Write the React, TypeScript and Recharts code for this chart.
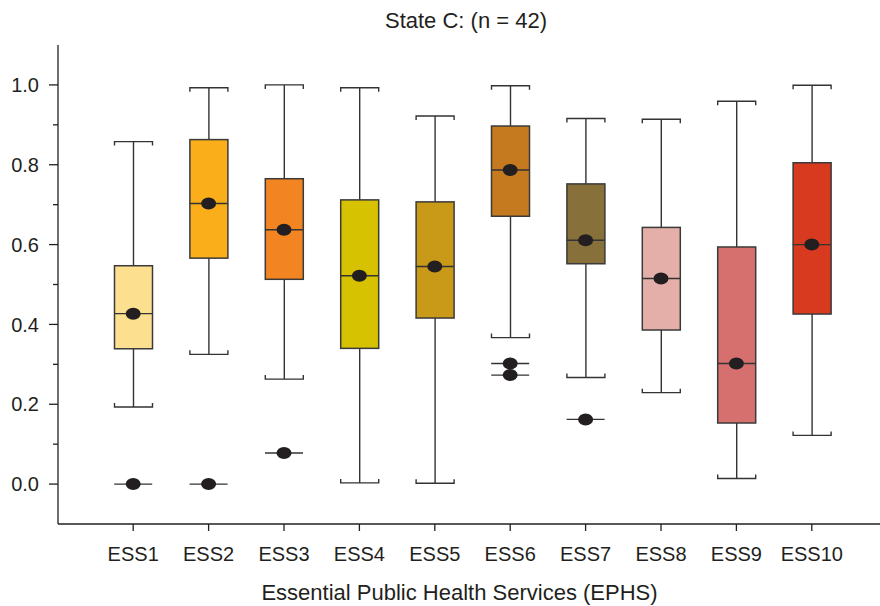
import React from "react"
import { ComposedChart, Bar, Scatter, XAxis, YAxis, Cell, Label } from "recharts"

const categories = ["ESS1", "ESS2", "ESS3", "ESS4", "ESS5", "ESS6", "ESS7", "ESS8", "ESS9", "ESS10"]
const whiskerLow = [0.193, 0.325, 0.263, 0.003, 0.002, 0.367, 0.267, 0.229, 0.014, 0.122]
const quartile1 = [0.339, 0.566, 0.513, 0.34, 0.416, 0.671, 0.552, 0.386, 0.153, 0.426]
const medians = [0.427, 0.703, 0.637, 0.522, 0.545, 0.787, 0.611, 0.515, 0.302, 0.6]
const quartile3 = [0.547, 0.863, 0.765, 0.712, 0.707, 0.897, 0.752, 0.643, 0.594, 0.805]
const whiskerHigh = [0.858, 0.993, 1.0, 0.993, 0.922, 0.998, 0.916, 0.914, 0.959, 0.999]
const outlierA = [0, 0, 0.078, null, null, 0.302, 0.162, null, null, null]
const outlierB = [null, null, null, null, null, 0.273, null, null, null, null]
const yTicks = [0, 0.1, 0.2, 0.3, 0.4, 0.5, 0.6, 0.7, 0.8, 0.9, 1.0]

const BOX_COLORS = [
  "#fde08f", "#f9ae1a", "#f38422", "#d6c200", "#c89a18",
  "#c67a20", "#88703a", "#e4afa9", "#d5706e", "#d83a1f",
]

const INK = "#231f20"
const FONT = "'Liberation Sans', Arial, sans-serif"
const BOX_W = 38

const data = categories.map((name, i) => ({
  name,
  whisker: [whiskerLow[i], whiskerHigh[i]],
  box: [quartile1[i], quartile3[i]],
  median: medians[i],
  o1: outlierA[i],
  o2: outlierB[i],
}))

function WhiskerShape(props: any) {
  const { x, y, width, height } = props
  const cx = x + width / 2
  const yb = y + height
  return (
    <g stroke="#333" strokeWidth={1.4} fill="none">
      <line x1={cx} y1={y} x2={cx} y2={yb} />
      <path d={`M${x},${y + 4}L${x},${y}L${x + width},${y}L${x + width},${y + 4}`} />
      <path d={`M${x},${yb - 4}L${x},${yb}L${x + width},${yb}L${x + width},${yb - 4}`} />
    </g>
  )
}

function BoxShape(props: any) {
  const { x, y, width, height, fill } = props
  return <rect x={x} y={y} width={width} height={height} fill={fill} stroke="#3a3a3a" strokeWidth={1.5} />
}

function makeDot(key: "median" | "o1" | "o2") {
  return (props: any) => {
    const { cx, cy, payload } = props
    if (payload == null || payload[key] == null || !Number.isFinite(cy)) return <g />
    return (
      <g>
        <line x1={cx - BOX_W / 2} y1={cy} x2={cx + BOX_W / 2} y2={cy} stroke="#333" strokeWidth={1.4} />
        <ellipse cx={cx} cy={cy} rx={7.5} ry={6} fill={INK} />
      </g>
    )
  }
}

function YTick(props: any) {
  const { x, y, payload } = props
  const axisX = x + 19
  const major = Math.round(payload.value * 10) % 2 === 0
  return (
    <g>
      <line x1={axisX - (major ? 9 : 5)} y1={y} x2={axisX} y2={y} stroke={INK} strokeWidth={1.3} />
      {major && (
        <text x={x} y={y} dy="0.36em" textAnchor="end" fontSize={20} fill={INK} fontFamily={FONT}>
          {payload.value.toFixed(1)}
        </text>
      )}
    </g>
  )
}

export default function App() {
  return (
    <div
      style={{
        position: "absolute",
        left: 0,
        top: 0,
        width: 880,
        height: 606,
        overflow: "hidden",
        background: "#fff",
        fontFamily: FONT,
      }}
    >
      <div
        style={{
          position: "absolute",
          top: 9,
          left: 0,
          width: 932,
          textAlign: "center",
          fontSize: 22,
          lineHeight: "24px",
          color: INK,
        }}
      >
        State C: (n = 42)
      </div>
      <ComposedChart width={899} height={606} data={data} margin={{ top: 45, right: 12, left: 0, bottom: 0 }}>
        <XAxis
          xAxisId="t"
          orientation="top"
          dataKey="name"
          height={0}
          tick={false}
          tickLine={false}
          padding={{ left: 37.5, right: 37.5 }}
          axisLine={{ stroke: INK, strokeWidth: 1.3 }}
        />
        <XAxis
          xAxisId="b"
          dataKey="name"
          height={82}
          interval={0}
          tickSize={7}
          tickMargin={16}
          padding={{ left: 37.5, right: 37.5 }}
          axisLine={{ stroke: INK, strokeWidth: 1.3 }}
          tickLine={{ stroke: INK, strokeWidth: 1.3 }}
          tick={{ fontSize: 20, fill: INK, fontFamily: FONT }}
        >
          <Label
            value="Essential Public Health Services (EPHS)"
            position="insideBottom"
            offset={6}
            dx={-13}
            style={{ fontSize: 22, fill: INK, fontFamily: FONT }}
          />
        </XAxis>
        <YAxis
          width={58}
          domain={[-0.1, 1.1]}
          ticks={yTicks}
          allowDataOverflow
          interval={0}
          tickSize={9}
          tickMargin={10}
          tickLine={false}
          tick={<YTick />}
          axisLine={{ stroke: INK, strokeWidth: 1.3 }}
        />
        <Bar xAxisId="b" dataKey="whisker" barSize={BOX_W} shape={<WhiskerShape />} isAnimationActive={false} />
        <Bar xAxisId="t" dataKey="box" barSize={BOX_W} shape={<BoxShape />} isAnimationActive={false}>
          {data.map((d, i) => (
            <Cell key={d.name} fill={BOX_COLORS[i]} />
          ))}
        </Bar>
        <Scatter xAxisId="b" dataKey="median" shape={makeDot("median")} isAnimationActive={false} />
        <Scatter xAxisId="b" dataKey="o1" shape={makeDot("o1")} isAnimationActive={false} />
        <Scatter xAxisId="b" dataKey="o2" shape={makeDot("o2")} isAnimationActive={false} />
      </ComposedChart>
    </div>
  )
}
